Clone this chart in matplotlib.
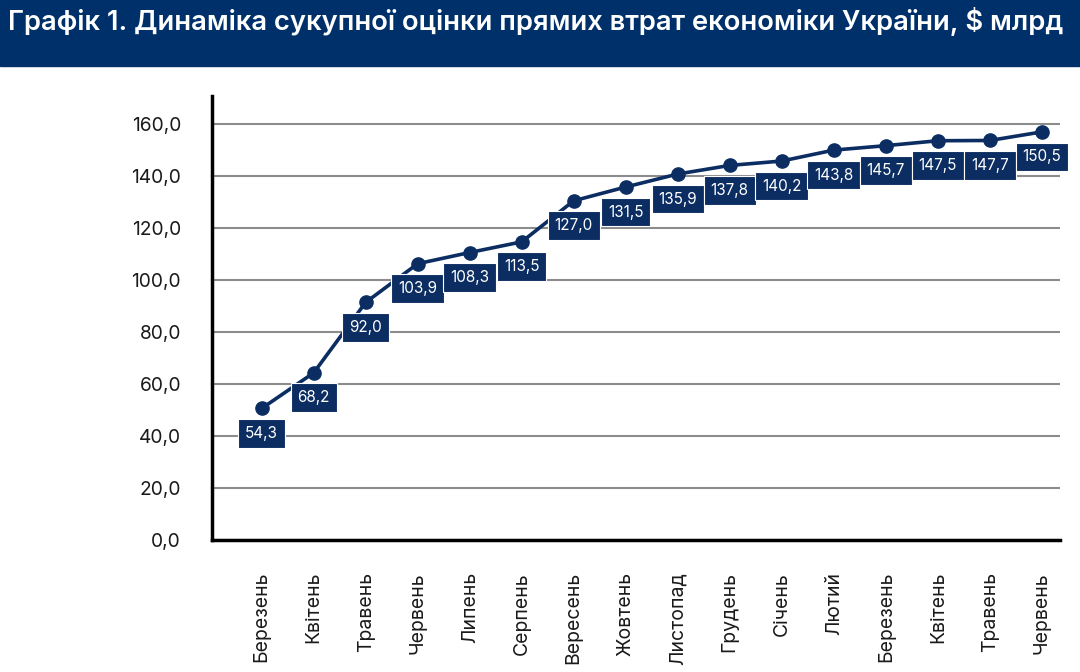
import matplotlib.pyplot as plt
from matplotlib.patches import Rectangle

plt.rcParams['font.family'] = ['Inter', 'DejaVu Sans']

months = ['Березень', 'Квітень', 'Травень', 'Червень', 'Липень', 'Серпень',
          'Вересень', 'Жовтень', 'Листопад', 'Грудень', 'Січень', 'Лютий',
          'Березень', 'Квітень', 'Травень', 'Червень']
# where the markers sit in the picture
points = [50.6, 64.3, 91.4, 106.3, 110.6, 114.7, 130.5, 135.8,
          140.8, 144.1, 145.8, 150.0, 151.7, 153.6, 153.7, 157.0]
# numbers printed in the boxes
labels = ['54,3', '68,2', '92,0', '103,9', '108,3', '113,5', '127,0', '131,5',
          '135,9', '137,8', '140,2', '143,8', '145,7', '147,5', '147,7', '150,5']
yticks = [0, 20, 40, 60, 80, 100, 120, 140, 160]

navy = '#0b2d62'

fig = plt.figure(figsize=(10.8, 6.72), dpi=100)

# title banner
fig.patches.append(Rectangle((0, 1 - 66 / 672), 1, 66 / 672, transform=fig.transFigure,
                             color='#00306a', zorder=0))
fig.text(0.007, 1 - 21 / 672, 'Графік 1. Динаміка сукупної оцінки прямих втрат економіки України, $ млрд',
         color='white', fontsize=19.7, fontweight='semibold', va='center', ha='left')

ax = fig.add_axes([0.196, 0.1964, 0.7855, 0.6607])
x = list(range(len(months)))
ax.plot(x, points, color=navy, lw=2.6, marker='o', markersize=9.5, zorder=3)

for i in x:
    ax.annotate(labels[i], (i, points[i]), xytext=(0, -25), textcoords='offset pixels',
                ha='center', va='center', color='white', fontsize=11, zorder=4,
                bbox=dict(boxstyle='square,pad=0.45', fc=navy, ec='white', lw=0.8))

ax.set_xlim(-0.96, 15.35)
ax.set_ylim(0, 170.8)
ax.set_yticks(yticks)
ax.set_yticklabels([f'{v:.1f}'.replace('.', ',') for v in yticks], fontsize=13.8, color='#1a1a1a')
ax.set_xticks(x)
ax.set_xticklabels(months, rotation=90, fontsize=14, color='#1a1a1a', va='top')
ax.tick_params(axis='y', length=0, pad=22)
ax.tick_params(axis='x', length=0, pad=23)

ax.grid(axis='y', color='#8c8c8c', lw=1.5, zorder=1)
ax.set_axisbelow(True)
for s in ['top', 'right']:
    ax.spines[s].set_visible(False)
for s in ['left', 'bottom']:
    ax.spines[s].set_linewidth(2.5)
    ax.spines[s].set_color('black')
    ax.spines[s].set_zorder(2)

fig.savefig('out.png', dpi=100)
